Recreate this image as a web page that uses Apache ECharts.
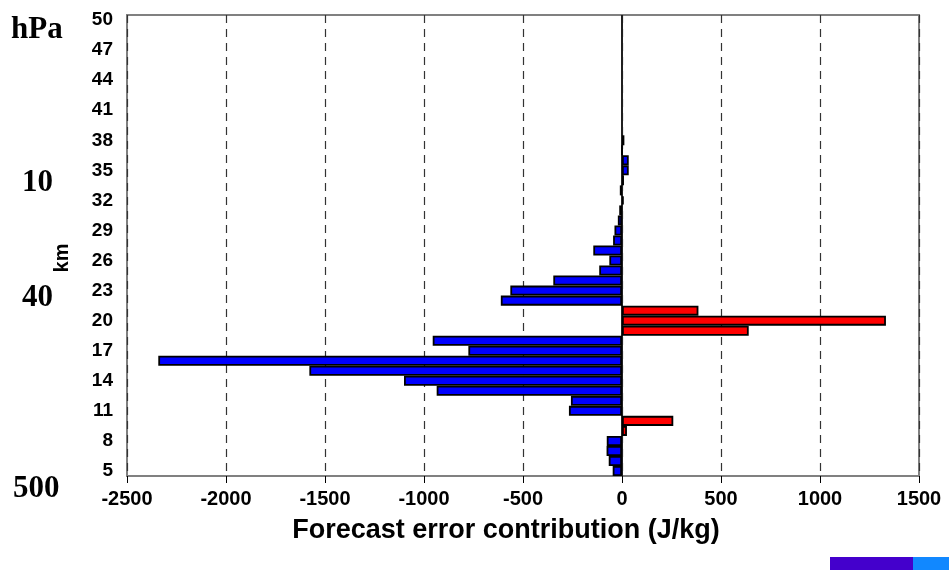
<!DOCTYPE html>
<html>
<head>
<meta charset="utf-8">
<script src="https://cdn.jsdelivr.net/npm/echarts@6/dist/echarts.min.js"></script>
<style>
  html, body { margin: 0; padding: 0; background: #ffffff; }
  #chart { width: 949px; height: 570px; }
</style>
</head>
<body>
<div id="chart"></div>
<script>
// Height levels (km), one bar per level
const levels = [];
for (let k = 5; k <= 50; k++) levels.push(String(k));

// Forecast error contribution (J/kg) per level, from 5 km upward
const contribution = [
  -47, -67, -78, -77, 25, 259, -268, -258, -936, -1101,
  -1579, -2342, -776, -956, 640, 1333, 386, -612, -564, -347,
  -115, -64, -145, -45, -38, -21, -14, 9, -11, 10,
  34, 34, 0, 12, null, null, null, null, null, null,
  null, null, null, null, null, null
];

// Levels whose bars are drawn in red (all others blue)
const redLevels = ['9', '10', '19', '20', '21'];

// Value axis ticks
const xMin = -2500, xMax = 1500, xStep = 500;

// Pressure labels shown beside the height axis
const pressureLabels = [
  { text: 'hPa', x: 11, y: 14 },
  { text: '10',  x: 22, y: 167 },
  { text: '40',  x: 22, y: 282 },
  { text: '500', x: 13, y: 473 }
];

const chart = echarts.init(document.getElementById('chart'), null, { renderer: 'canvas' });

const sans = "'Liberation Sans', Arial, sans-serif";
const serif = "'Liberation Serif', 'Times New Roman', serif";

chart.setOption({
  animation: false,
  backgroundColor: '#ffffff',
  grid: {
    left: 127, right: 30, top: 15, bottom: 94,
    show: true, borderColor: '#808080', borderWidth: 2, backgroundColor: 'transparent'
  },
  xAxis: {
    type: 'value',
    min: xMin, max: xMax, interval: xStep,
    axisLine: { show: true, lineStyle: { color: '#808080', width: 2 } },
    axisTick: { show: true, length: 7, lineStyle: { color: '#000000', width: 1 } },
    axisLabel: {
      color: '#000000', fontFamily: sans, fontWeight: 'bold', fontSize: 20, margin: 13,
      formatter: v => String(v)
    },
    splitLine: { show: true, lineStyle: { color: '#333333', width: 1.2, type: [8, 6] } }
  },
  yAxis: {
    type: 'category',
    data: levels,
    axisLine: { show: true, lineStyle: { color: '#808080', width: 2 } },
    axisTick: { show: false },
    axisLabel: { interval: 2, color: '#000000', fontFamily: sans, fontWeight: 'bold', fontSize: 19, margin: 14 },
    splitLine: { show: false }
  },
  series: [{
    type: 'bar',
    data: contribution,
    barWidth: '100%',
    barCategoryGap: '0%',
    itemStyle: {
      color: p => (redLevels.includes(p.name) ? '#ff0000' : '#0000ff'),
      borderColor: '#000000',
      borderWidth: 1.8
    },
    markLine: {
      silent: true,
      symbol: 'none',
      label: { show: false },
      lineStyle: { color: '#000000', width: 1.5, type: 'solid' },
      data: [{ xAxis: 0 }]
    }
  }],
  graphic: [
    {
      type: 'text', x: 506, y: 531,
      style: {
        text: 'Forecast error contribution (J/kg)', fill: '#000000',
        font: 'bold 27px ' + sans, align: 'center', verticalAlign: 'middle'
      }
    },
    ...pressureLabels.map(p => ({
      type: 'text', left: p.x, top: p.y,
      style: { text: p.text, fill: '#000000', font: 'bold 31px ' + serif }
    })),
    {
      type: 'text', x: 62, y: 258, rotation: Math.PI / 2,
      style: { text: 'km', fill: '#000000', font: 'bold 20px ' + sans, align: 'center', verticalAlign: 'middle' }
    },
    { type: 'rect', shape: { x: 830, y: 557, width: 83, height: 13 }, style: { fill: '#4400cc' } },
    { type: 'rect', shape: { x: 913, y: 557, width: 36, height: 13 }, style: { fill: '#1188ff' } }
  ]
});
</script>
</body>
</html>
